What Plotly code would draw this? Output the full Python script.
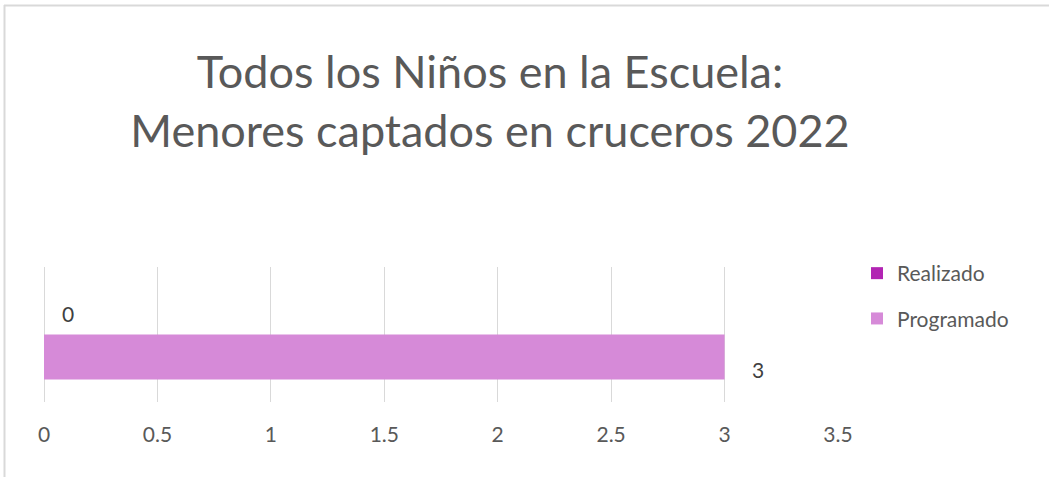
import plotly.graph_objects as go

# ---- data ----
categories = ["Cruceros"]
series_names = ["Realizado", "Programado"]
realizado = [0]
programado = [3]
x_ticks = [0, 0.5, 1, 1.5, 2, 2.5, 3, 3.5]
x_tick_labels = ["0", "0.5", "1", "1.5", "2", "2.5", "3", "3.5"]
title_text = "Todos los Niños en la Escuela:<br>Menores captados en cruceros 2022"

# ---- style ----
W, H = 1049, 477
L, R, T, B = 44, 838, 267, 402
FONT = "Lato"
col_real = "#B224B3"
col_prog = "#D68AD8"
grid = "#D9D9D9"

fig = go.Figure()
# Programado first so it sits lower in the group
fig.add_trace(go.Bar(y=categories, x=programado, name="Programado", orientation="h",
                     marker=dict(color=col_prog, line=dict(width=0)),
                     legendgroup="p", legendrank=2))
fig.add_trace(go.Bar(y=categories, x=realizado, name="Realizado", orientation="h",
                     marker=dict(color=col_real, line=dict(width=0)),
                     legendgroup="r", legendrank=1))

# data labels
label_style = {"Realizado": dict(xshift=16, yshift=21.5),
               "Programado": dict(xshift=25, yshift=-34.5)}
for name, vals in (("Realizado", realizado), ("Programado", programado)):
    for c, v in zip(categories, vals):
        fig.add_annotation(x=v, y=c, text=str(v), showarrow=False, xanchor="left",
                           yanchor="middle", font=dict(family=FONT, size=21, color="#404040"),
                           **label_style[name])

pw, ph = R - L, B - T
def px(x):
    return (x - L) / pw
def py(y):
    return (B - y) / ph

# outer chart border (top and left)
fig.add_shape(type="line", xref="paper", yref="paper", x0=px(4), x1=px(1049),
              y0=py(5.5), y1=py(5.5), line=dict(color="#D9D9D9", width=2))
fig.add_shape(type="line", xref="paper", yref="paper", x0=px(4.5), x1=px(4.5),
              y0=py(5), y1=py(477), line=dict(color="#D9D9D9", width=2))

fig.update_layout(
    width=W, height=H,
    margin=dict(l=L, r=W - R, t=T, b=H - B, pad=0),
    paper_bgcolor="white", plot_bgcolor="white",
    barmode="group", bargap=1/3, bargroupgap=0,
    title=dict(text=title_text, x=490 / W, xanchor="center", xref="container",
               y=1 - 88 / H, yanchor="top", yref="container",
               font=dict(family=FONT, size=45, color="#595959")),
    xaxis=dict(range=[0, 3.5], tickvals=x_ticks, ticktext=x_tick_labels,
               showgrid=True, gridcolor=grid, gridwidth=1,
               zeroline=True, zerolinecolor=grid, zerolinewidth=1,
               showline=False, ticks="", ticklabelstandoff=18,
               tickfont=dict(family=FONT, size=21, color="#595959")),
    yaxis=dict(showticklabels=False, showgrid=False, zeroline=False, showline=False),
    legend=dict(x=px(857), xanchor="left", y=py(253), yanchor="top",
                traceorder="grouped", tracegroupgap=15,
                font=dict(family=FONT, size=21, color="#595959"),
                itemwidth=30, bgcolor="rgba(0,0,0,0)"),
    showlegend=True,
)

fig.write_html("out.html", post_script="document.body.style.margin='0';",
               config={"displayModeBar": False})
